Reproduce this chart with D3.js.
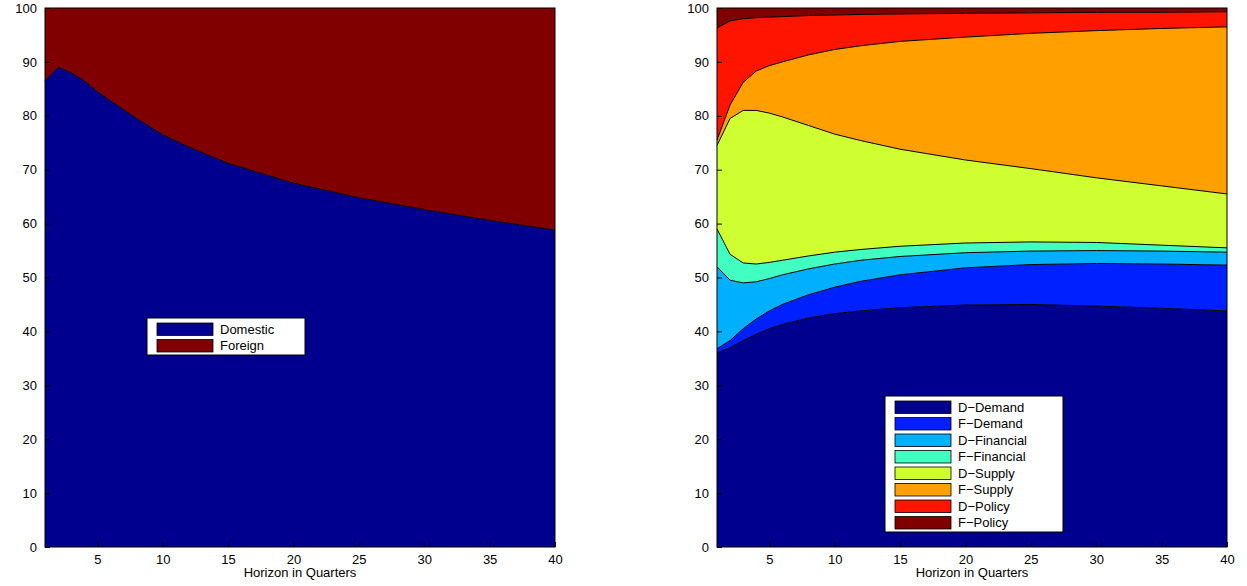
<!DOCTYPE html>
<html><head><meta charset="utf-8">
<script src="https://cdn.jsdelivr.net/npm/d3@7"></script>
<style>
body{margin:0;background:#fff;}
text{font-family:"Liberation Sans",Arial,sans-serif;}
</style></head>
<body><svg id="chart" width="1247" height="586"></svg>
<script>
const quarters = [1, 2, 3, 4, 5, 6, 8, 10, 12, 15, 20, 25, 30, 35, 40];

// left panel: domestic share (rest is foreign)
const domestic = [86.5, 89, 88, 86.5, 84.5, 82.8, 79.5, 76.5, 74.2, 71.2, 67.5, 64.8, 62.6, 60.6, 58.8];
const leftNames = ["Domestic", "Foreign"];
const leftColors = ["#00008f", "#800000"];

// right panel: cumulative upper boundaries of each shock
const rightNames = ["D\u2212Demand", "F\u2212Demand", "D\u2212Financial", "F\u2212Financial", "D\u2212Supply", "F\u2212Supply", "D\u2212Policy", "F\u2212Policy"];
const rightColors = ["#00008f", "#0020ff", "#00b0ff", "#40ffc0", "#cfff30", "#ffa000", "#ff1400", "#800000"];
const cumDDemand = [36, 37, 38.3, 39.5, 40.5, 41.3, 42.5, 43.3, 43.8, 44.4, 44.9, 45, 44.7, 44.3, 43.8];
const cumFDemand = [36.8, 38.3, 40.5, 42.3, 43.8, 45, 46.8, 48.2, 49.3, 50.5, 51.8, 52.4, 52.6, 52.5, 52.3];
const cumDFinancial = [52, 49.5, 49, 49.2, 49.8, 50.5, 51.6, 52.5, 53.2, 53.9, 54.6, 54.9, 55, 54.9, 54.7];
const cumFFinancial = [59, 54.3, 52.7, 52.5, 52.8, 53.2, 54, 54.7, 55.2, 55.8, 56.4, 56.6, 56.5, 56, 55.5];
const cumDSupply = [74.5, 79.5, 81, 81, 80.5, 79.8, 78.2, 76.6, 75.4, 73.8, 71.8, 70.2, 68.5, 67, 65.5];
const cumFSupply = [75.5, 82, 86.2, 88.3, 89.3, 90, 91.3, 92.3, 93, 93.8, 94.6, 95.3, 95.8, 96.2, 96.5];
const cumDPolicy = [96.3, 97.6, 98, 98.2, 98.3, 98.4, 98.6, 98.7, 98.8, 98.9, 99, 99.1, 99.2, 99.2, 99.3];
const cumFPolicy = quarters.map(() => 100);

const xTicks = [5, 10, 15, 20, 25, 30, 35, 40];
const yTicks = [0, 10, 20, 30, 40, 50, 60, 70, 80, 90, 100];

const svg = d3.select("#chart");
const plotTop = 8, plotBottom = 547;

function panel(x0, x1, bands, colors, names, legend) {
  const x = d3.scaleLinear().domain([1, 40]).range([x0, x1]);
  const y = d3.scaleLinear().domain([0, 100]).range([plotBottom, plotTop]);
  const g = svg.append("g");
  const area = d3.area().x((d, i) => x(quarters[i])).y0(d => y(d[0])).y1(d => y(d[1]));
  const line = d3.line().x((d, i) => x(quarters[i])).y(d => y(d));
  bands.forEach((b, k) => {
    const lower = k === 0 ? quarters.map(() => 0) : bands[k - 1];
    g.append("path").datum(b.map((v, i) => [lower[i], v]))
      .attr("d", area).attr("fill", colors[k]).attr("stroke", "none");
  });
  bands.slice(0, -1).forEach(b => {
    g.append("path").datum(b).attr("d", line).attr("fill", "none").attr("stroke", "#000").attr("stroke-width", 1);
  });
  g.append("rect").attr("x", x0).attr("y", plotTop).attr("width", x1 - x0).attr("height", plotBottom - plotTop)
    .attr("fill", "none").attr("stroke", "#000");

  g.append("g").attr("transform", `translate(0,${plotBottom})`)
    .call(d3.axisBottom(x).tickValues(xTicks).tickSize(-5).tickPadding(8).tickFormat(d3.format("d")))
    .call(a => a.select(".domain").remove())
    .call(a => a.selectAll("text").attr("font-size", 13).attr("fill", "#000").attr("font-family", "Liberation Sans, Arial"));
  g.append("g").attr("transform", `translate(${x0},0)`)
    .call(d3.axisLeft(y).tickValues(yTicks).tickSize(-5).tickPadding(8))
    .call(a => a.select(".domain").remove())
    .call(a => a.selectAll("text").attr("font-size", 13).attr("fill", "#000").attr("font-family", "Liberation Sans, Arial"));
  g.append("text").attr("x", (x0 + x1) / 2).attr("y", 577).attr("text-anchor", "middle")
    .attr("font-size", 13).text("Horizon in Quarters");

  const lg = g.append("g").attr("transform", `translate(${legend.x},${legend.y})`);
  const rowH = legend.rowH;
  lg.append("rect").attr("width", legend.w).attr("height", names.length * rowH + 4)
    .attr("fill", "#fff").attr("stroke", "#000");
  names.forEach((n, i) => {
    lg.append("rect").attr("x", 10).attr("y", 3 + i * rowH + 2).attr("width", 56).attr("height", rowH - 4)
      .attr("fill", colors[i]).attr("stroke", "#000").attr("stroke-width", 0.8);
    lg.append("text").attr("x", 73).attr("y", 3 + i * rowH + rowH / 2 + 4.5)
      .attr("font-size", 13).text(n);
  });
}

panel(45, 555, [domestic, cumFPolicy], leftColors, leftNames, { x: 147, y: 318, w: 158, rowH: 16.5 });
panel(717, 1227,
  [cumDDemand, cumFDemand, cumDFinancial, cumFFinancial, cumDSupply, cumFSupply, cumDPolicy, cumFPolicy],
  rightColors, rightNames, { x: 885, y: 396, w: 178, rowH: 16.5 });
</script></body></html>
